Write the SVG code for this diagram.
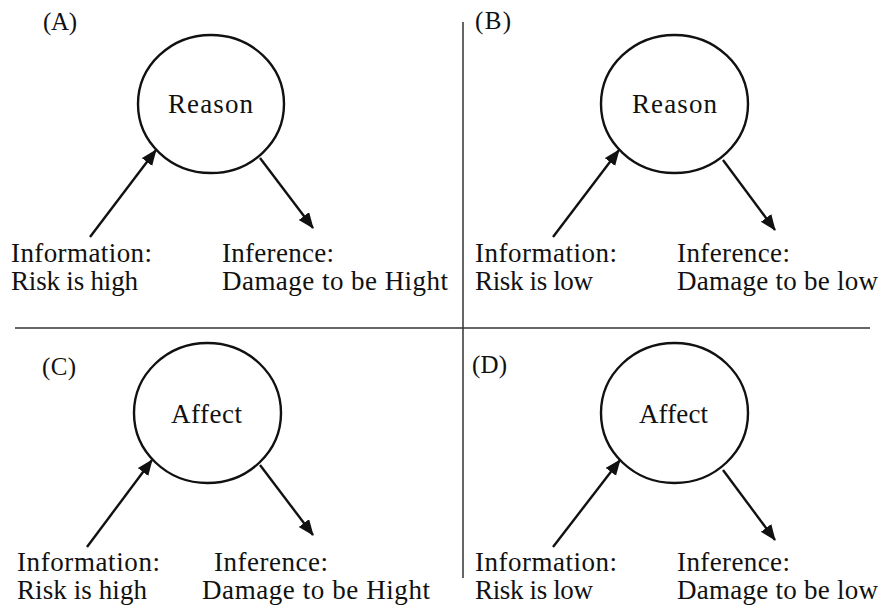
<svg xmlns="http://www.w3.org/2000/svg" width="885" height="610" viewBox="0 0 885 610">
<style>
text{font-family:"Liberation Serif","Times New Roman",serif;font-size:27px;fill:#111}
.lbl{font-size:25px}
.node{fill:none;stroke:#111;stroke-width:2.4}
.conn{stroke:#111;stroke-width:2.4;fill:none;marker-end:url(#ah)}
.div{stroke:#333;stroke-width:1.5}
</style>
<defs>
<marker id="ah" markerUnits="userSpaceOnUse" markerWidth="16" markerHeight="14" refX="15" refY="6.5" orient="auto">
<path d="M0,0 L16,6.5 L0,13 z" fill="#111"/>
</marker>
</defs>
<g id="dividers">
<line class="div" x1="463" y1="22" x2="463" y2="578"/>
<line class="div" x1="15" y1="328" x2="870" y2="328"/>
</g>
<g id="panelA">
<text class="lbl" x="43" y="30" textLength="34">(A)</text>
<g id="nodeA"><ellipse class="node" cx="211" cy="104" rx="73" ry="69"/><text x="168" y="113" textLength="85">Reason</text></g>
<g id="infoA"><text x="11" y="262" textLength="141">Information:</text><text x="11" y="290" textLength="127">Risk is high</text></g>
<g id="infA"><text x="222" y="262" textLength="112">Inference:</text><text x="222" y="290" textLength="226">Damage to be Hight</text></g>
</g>
<g id="panelB">
<text class="lbl" x="475" y="29" textLength="36">(B)</text>
<g id="nodeB"><ellipse class="node" cx="674.5" cy="104" rx="73.5" ry="69"/><text x="632" y="113" textLength="85">Reason</text></g>
<g id="infoB"><text x="475" y="262" textLength="142">Information:</text><text x="475" y="290" textLength="118">Risk is low</text></g>
<g id="infB"><text x="677" y="262" textLength="113">Inference:</text><text x="677" y="290" textLength="201">Damage to be low</text></g>
</g>
<g id="panelC">
<text class="lbl" x="42" y="375" textLength="34">(C)</text>
<g id="nodeC"><ellipse class="node" cx="207.5" cy="413" rx="73.5" ry="70"/><text x="171" y="423" textLength="71">Affect</text></g>
<g id="infoC"><text x="17" y="571" textLength="143">Information:</text><text x="17" y="599" textLength="130">Risk is high</text></g>
<g id="infC"><text x="214" y="571" textLength="114">Inference:</text><text x="202" y="599" textLength="228">Damage to be Hight</text></g>
</g>
<g id="panelD">
<text class="lbl" x="472" y="373" textLength="35">(D)</text>
<g id="nodeD"><ellipse class="node" cx="674.5" cy="413" rx="73.5" ry="70"/><text x="639" y="423" textLength="69">Affect</text></g>
<g id="infoD"><text x="475" y="571" textLength="142">Information:</text><text x="475" y="599" textLength="118">Risk is low</text></g>
<g id="infD"><text x="677" y="571" textLength="113">Inference:</text><text x="677" y="599" textLength="201">Damage to be low</text></g>
</g>
<g id="connectors">
<line class="conn" x1="90" y1="237" x2="156" y2="150"/>
<line class="conn" x1="260" y1="158" x2="313" y2="228"/>
<line class="conn" x1="553" y1="237" x2="619" y2="150"/>
<line class="conn" x1="723" y1="160" x2="775" y2="230"/>
<line class="conn" x1="87" y1="547" x2="152" y2="460"/>
<line class="conn" x1="260" y1="465" x2="313" y2="535"/>
<line class="conn" x1="553" y1="547" x2="620" y2="460"/>
<line class="conn" x1="723" y1="470" x2="775" y2="540"/>
</g>
</svg>
